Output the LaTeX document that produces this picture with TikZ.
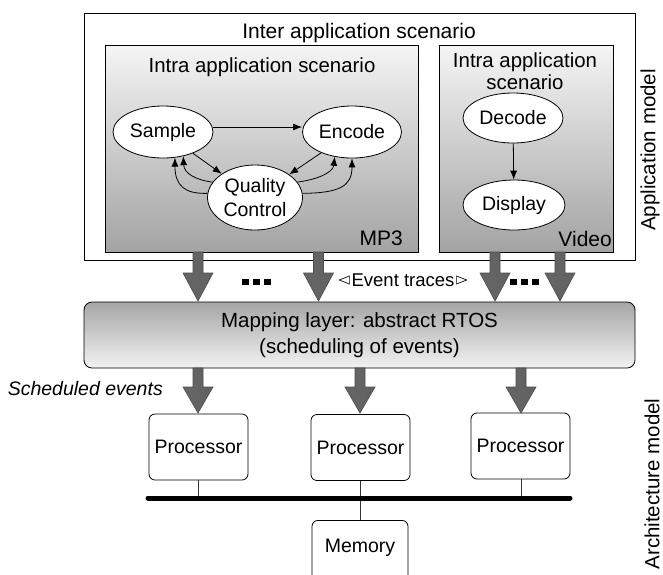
\documentclass[tikz,border=0pt]{standalone}
\usepackage{fontspec}
\setmainfont{Liberation Sans}
\usetikzlibrary{shapes.geometric,arrows.meta}
\newcommand\FatArrow[4]{%
  \draw[fatarrow] (#1-5,#2) -- (#1-5,#3) -- (#1-15,#3) -- (#1,#4) -- (#1+15,#3) -- (#1+5,#3) -- (#1+5,#2) -- cycle;}
\begin{document}
\begin{tikzpicture}[x=1pt,y=-1pt,
  txt/.style={font=\fontsize{19.5}{24}\selectfont, inner sep=0pt},
  ell/.style={ellipse, draw, fill=white, inner sep=0pt, line width=0.8pt, align=center,
    font=\fontsize{19.5}{24}\selectfont},
  proc/.style={rectangle, rounded corners=6pt, draw, fill=white, line width=0.8pt,
    minimum width=99pt, minimum height=66pt, font=\fontsize{19.5}{24}\selectfont},
  scen/.style={rectangle, draw, line width=0.8pt, top color=black!4, bottom color=black!36,
    minimum height=207pt, inner sep=0pt},
  arr/.style={line width=0.8pt, -{Latex[length=9pt,width=7pt]}},
  fatarrow/.style={draw=black!70, line width=0.6pt, left color=black!60, middle color=black!28, right color=black!62},
  thin/.style={line width=0.8pt, draw=black!80}]
\useasboundingbox (0,0) rectangle (663,574);
\clip (0,0) rectangle (663,574);
% outer application box
\node[draw, line width=0.8pt, minimum width=551pt, minimum height=247pt, inner sep=0pt] (outer) at (359.5,136.5) {};
\node[txt, font=\fontsize{21}{24}\selectfont] (inter) at (359,33) {Inter application scenario};
% MP3 and Video scenario boxes
\node[scen, minimum width=313pt] (mp3) at (261.5,148.5) {};
\node[scen, minimum width=174pt] (video) at (526,148.5) {};
\node[txt, font=\fontsize{20.4}{24}\selectfont] (intra1) at (262,67) {Intra application scenario};
\node[txt, font=\fontsize{20.4}{22}\selectfont, align=center] (intra2) at (525,71) {Intra application\\scenario};
\node[txt, font=\fontsize{21}{24}\selectfont, anchor=east] (mp3l) at (403,238) {MP3};
\node[txt, font=\fontsize{21}{24}\selectfont, anchor=east] (vidl) at (612,239) {Video};
% MP3 processes
\node[ell, minimum width=100pt, minimum height=52pt] (S) at (163,132) {Sample};
\node[ell, minimum width=99pt, minimum height=52pt] (E) at (352,132) {Encode};
\node[ell, minimum width=95pt, minimum height=65pt] (Q) at (255,197.5) {Quality\\Control};
\draw[arr] ([yshift=5pt]S.east) -- ([yshift=5pt]E.west);
\draw[arr] (S) -- (Q);
\draw[arr] (E) -- (Q);
\draw[arr] (Q.175) .. controls (185,194) and (175,186) .. (S.-65);
\draw[arr] (Q.160) .. controls (195,180) and (184,173) .. (S.-50);
\draw[arr] (Q.20) .. controls (315,180) and (333,173) .. (E.-125);
\draw[arr] (Q.5) .. controls (340,193) and (352,186) .. (E.-90);
% Video processes
\node[ell, minimum width=100pt, minimum height=50pt] (D) at (513,118) {Decode};
\node[ell, minimum width=102pt, minimum height=50pt] (Di) at (514,205) {Display};
\draw[arr] (D) -- (Di);
% rotated side labels
\node[txt, font=\fontsize{20.5}{24}\selectfont, rotate=90] (appm) at (650,150) {Application model};
\node[txt, font=\fontsize{20.5}{24}\selectfont, rotate=90] (archm) at (652,484) {Architecture model};
% mapping layer
\node[rectangle, rounded corners=8pt, draw, line width=0.8pt, top color=black!35, bottom color=black!5,
  minimum width=551pt, minimum height=66pt, align=center, font=\fontsize{20.5}{26}\selectfont] (map) at (359.5,335)
  {Mapping layer: abstract RTOS\\(scheduling of events)};
% fat arrows top
\FatArrow{198}{252}{273}{301}
\FatArrow{318.5}{252}{273}{301}
\FatArrow{495}{252}{273}{301}
\FatArrow{560}{252}{273}{301}
% dots
\foreach \x in {242,253,264,510,521,532} \fill (\x,279) rectangle (\x+7,285);
% event traces label
\node[txt, font=\fontsize{18.5}{20}\selectfont] (ev) at (403,280) {Event traces};
\draw[line width=0.7pt] ([xshift=-2pt]ev.west) ++(0,-4) -- ++(0,8) -- ++(-10,-4) -- cycle;
\draw[line width=0.7pt] ([xshift=2pt]ev.east) ++(0,-4) -- ++(0,8) -- ++(10,-4) -- cycle;
% scheduled events label
\node[txt, font=\fontsize{19.5}{24}\selectfont\itshape, anchor=east] (sched) at (163,389) {Scheduled events};
% processors
\node[proc] (P1) at (198.5,447) {Processor};
\node[proc] (P2) at (360.5,447.5) {Processor};
\node[proc] (P3) at (520.5,446) {Processor};
\node[proc, minimum width=96pt, minimum height=80pt, anchor=north] (M) at (360,520) {};
\node[txt] (Ml) at (360,548) {Memory};
% fat arrows bottom
\FatArrow{198}{368}{387}{413}
\FatArrow{360}{368}{387}{413}
\FatArrow{521}{368}{387}{413}
% bus
\coordinate (busL) at (148,498);
\coordinate (busR) at (570,498);
\coordinate (b1) at (198,498);
\coordinate (b2) at (360,498);
\coordinate (b3) at (521,498);
\draw[thin] (P1.south -| b1) -- (b1);
\draw[thin] (P2.south -| b2) -- (b2);
\draw[thin] (P3.south -| b3) -- (b3);
\draw[thin] (b2) -- (M.north);
\draw[line width=5pt, line cap=round] (busL) -- (busR);
\end{tikzpicture}
\end{document}
